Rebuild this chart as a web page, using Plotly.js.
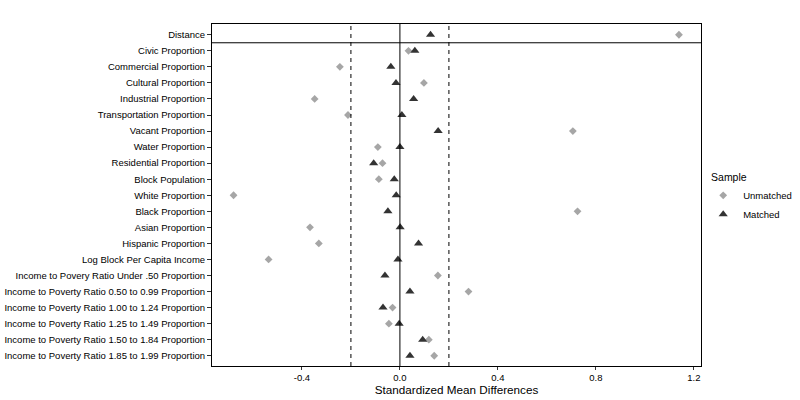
<!DOCTYPE html>
<html>
<head>
<meta charset="utf-8">
<script src="https://cdn.plot.ly/plotly-3.0.1.min.js"></script>
<style>html,body{margin:0;padding:0;background:#fff;}#chart{width:800px;height:400px;}</style>
</head>
<body>
<div id="chart"></div>
<script>
var variables = [
  "Distance",
  "Civic Proportion",
  "Commercial Proportion",
  "Cultural Proportion",
  "Industrial Proportion",
  "Transportation Proportion",
  "Vacant Proportion",
  "Water Proportion",
  "Residential Proportion",
  "Block Population",
  "White Proportion",
  "Black Proportion",
  "Asian Proportion",
  "Hispanic Proportion",
  "Log Block Per Capita Income",
  "Income to Povery Ratio Under .50 Proportion",
  "Income to Poverty Ratio 0.50 to 0.99 Proportion",
  "Income to Poverty Ratio 1.00 to 1.24 Proportion",
  "Income to Poverty Ratio 1.25 to 1.49 Proportion",
  "Income to Poverty Ratio 1.50 to 1.84 Proportion",
  "Income to Poverty Ratio 1.85 to 1.99 Proportion"
];
var unmatched = [1.139, 0.035, -0.245, 0.098, -0.348, -0.212, 0.706, -0.090, -0.071, -0.086, -0.679, 0.725, -0.367, -0.331, -0.536, 0.155, 0.280, -0.030, -0.045, 0.118, 0.140];
var matched   = [0.125, 0.061, -0.037, -0.016, 0.056, 0.008, 0.156, 0.000, -0.107, -0.023, -0.015, -0.049, 0.001, 0.076, -0.008, -0.061, 0.041, -0.069, -0.003, 0.093, 0.041];
var xTickVals = [-0.4, 0, 0.4, 0.8, 1.2];
var xTickText = ["-0.4", "0.0", "0.4", "0.8", "1.2"];
var threshold = 0.2;

var font = "Liberation Sans, Arial, sans-serif";
var traces = [
  {type: "scatter", mode: "markers", name: "Unmatched", x: unmatched, y: variables,
   marker: {symbol: "diamond", size: 6, color: "#a6a6a6"}},
  {type: "scatter", mode: "markers", name: "Matched", x: matched, y: variables,
   marker: {symbol: "triangle-up", size: 8, color: "#333333"}}
];
var n = variables.length;
var layout = {
  width: 800, height: 400,
  margin: {l: 212, r: 99, t: 24, b: 34, pad: 0, autoexpand: false},
  paper_bgcolor: "#fff", plot_bgcolor: "#fff",
  font: {family: font, size: 9.5, color: "#000"},
  showlegend: true,
  legend: {xref: "container", yref: "container", x: 0.879, xanchor: "left", y: 0.582, yanchor: "top",
           title: {text: "\u00a0\u00a0Sample", font: {size: 10.5}},
           font: {size: 9.5}, bgcolor: "rgba(0,0,0,0)"},
  xaxis: {range: [-0.767, 1.229], tickvals: xTickVals, ticktext: xTickText,
          automargin: false,
          showgrid: false, zeroline: false, showline: true, mirror: true,
          linecolor: "#000", linewidth: 1, ticks: "outside", ticklen: 3, tickcolor: "#333",
          tickfont: {size: 9.5, color: "#000"},
          title: {text: "Standardized Mean Differences", font: {size: 11.7, color: "#000"}, standoff: 1}},
  yaxis: {type: "category", categoryorder: "array", categoryarray: variables,
          range: [n - 1 + 0.64, -0.67], automargin: false,
          showgrid: false, zeroline: false, showline: true, mirror: true,
          linecolor: "#000", linewidth: 1, ticks: "outside", ticklen: 4, tickcolor: "#333",
          tickfont: {size: 9.5, color: "#000"}},
  shapes: [
    {type: "line", xref: "x", yref: "paper", x0: 0, x1: 0, y0: 0, y1: 1, line: {color: "#000", width: 1}},
    {type: "line", xref: "x", yref: "paper", x0: -threshold, x1: -threshold, y0: 0, y1: 1, line: {color: "#000", width: 1, dash: "4px,4px"}},
    {type: "line", xref: "x", yref: "paper", x0: threshold, x1: threshold, y0: 0, y1: 1, line: {color: "#000", width: 1, dash: "4px,4px"}},
    {type: "line", xref: "paper", yref: "y", x0: 0, x1: 1, y0: 0.5, y1: 0.5, line: {color: "#000", width: 1}}
  ]
};
Plotly.newPlot("chart", traces, layout, {displayModeBar: false, staticPlot: true});
</script>
</body>
</html>
